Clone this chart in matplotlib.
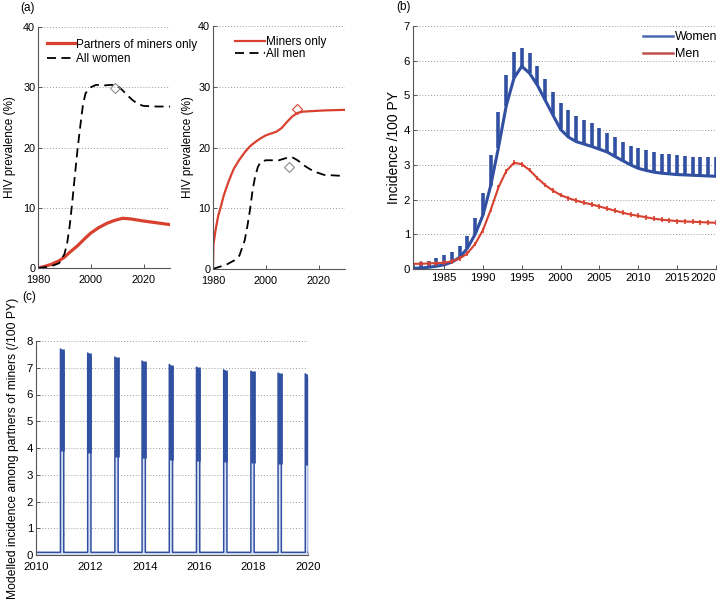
import matplotlib
matplotlib.use("Agg")
import matplotlib.pyplot as plt
import numpy as np

plt.rcParams['font.family'] = ['Liberation Sans', 'DejaVu Sans']

RED = '#d8412f'
BLUE = '#3150a2'
GRAY_D = '#8c8c8c'

# ---------------- Panel (a) left: women ----------------
yrs_aw = [1980, 1982, 1985, 1988, 1990, 1991, 1992, 1993, 1994, 1995, 1996, 1997, 1998, 2000,
          2002, 2005, 2008, 2010, 2012, 2014, 2016, 2018, 2020, 2025, 2030]
all_women = [0.0, 0.1, 0.3, 0.8, 2.3, 4.0, 7.0, 11.0, 15.5, 19.8, 23.5, 27.0, 29.0, 30.0,
             30.4, 30.3, 30.4, 30.3, 29.5, 28.6, 27.8, 27.2, 26.9, 26.8, 26.8]
yrs_ap = [1980, 1982, 1985, 1988, 1990, 1992, 1995, 1998, 2000, 2003, 2006, 2009, 2012,
          2015, 2020, 2025, 2030]
partners = [0.0, 0.2, 0.6, 1.2, 1.8, 2.6, 3.7, 5.0, 5.8, 6.7, 7.4, 7.9, 8.25,
            8.15, 7.8, 7.5, 7.2]
obs_women_x = [2009]
obs_women_y = [29.9]

# ---------------- Panel (a) right: men ----------------
yrs_am = [1980, 1982, 1985, 1988, 1990, 1992, 1993, 1994, 1995, 1996, 1997, 1998, 2000,
          2005, 2008, 2010, 2012, 2015, 2018, 2022, 2030]
all_men = [0.0, 0.3, 0.7, 1.4, 2.2, 4.7, 7.0, 9.7, 13.0, 15.3, 16.8, 17.6, 17.9,
           17.9, 18.3, 18.4, 17.9, 16.9, 16.1, 15.5, 15.3]
yrs_mo = [1980, 1980.15, 1981, 1982, 1983, 1984, 1985, 1986, 1987, 1988, 1990, 1992, 1994,
          1996, 1998, 2000, 2002, 2004, 2006, 2008, 2010, 2012, 2014, 2018, 2022, 2030]
miners = [0.0, 4.0, 6.5, 8.8, 10.3, 12.0, 13.3, 14.5, 15.6, 16.6, 18.0, 19.2, 20.2,
          20.9, 21.5, 22.0, 22.3, 22.6, 23.2, 24.2, 25.1, 25.7, 25.9, 26.0, 26.1, 26.2]
obs_miners_x = [2011.7]
obs_miners_y = [26.4]
obs_men_x = [2008.8]
obs_men_y = [16.8]

# ---------------- Panel (b): incidence ----------------
yrs_b = list(range(1981, 2021))
women_inc = [0.02, 0.03, 0.05, 0.08, 0.12, 0.2, 0.33, 0.6, 1.0, 1.55, 2.4, 3.5, 4.7, 5.5, 5.84,
             5.64, 5.3, 4.87, 4.44, 4.02, 3.8, 3.67, 3.6, 3.53, 3.45, 3.37, 3.24, 3.12, 3.0, 2.9,
             2.84, 2.79, 2.76, 2.74, 2.72, 2.71, 2.7, 2.69, 2.68, 2.67]
women_peak = [0.15, 0.2, 0.24, 0.33, 0.39, 0.5, 0.67, 0.96, 1.47, 2.2, 3.29, 4.53, 5.59, 6.26,
              6.38, 6.23, 5.85, 5.46, 5.11, 4.79, 4.58, 4.41, 4.3, 4.2, 4.07, 3.93, 3.8, 3.67,
              3.53, 3.48, 3.43, 3.38, 3.32, 3.31, 3.27, 3.25, 3.24, 3.22, 3.22, 3.22]
men_inc = [0.15, 0.15, 0.16, 0.17, 0.18, 0.22, 0.3, 0.45, 0.72, 1.12, 1.7, 2.35, 2.82, 3.06,
           3.02, 2.85, 2.62, 2.42, 2.26, 2.13, 2.04, 1.97, 1.91, 1.86, 1.8, 1.74, 1.68, 1.62,
           1.57, 1.53, 1.49, 1.45, 1.42, 1.4, 1.38, 1.37, 1.36, 1.35, 1.34, 1.33]

# ---------------- Panel (c): partners of miners, 2010-2020 ----------------
spike_years = [2010.9, 2011.9, 2012.9, 2013.9, 2014.9, 2015.9, 2016.9, 2017.9, 2018.9, 2019.9]
spike_peak = [7.7, 7.55, 7.4, 7.25, 7.12, 7.02, 6.92, 6.87, 6.8, 6.77]
spike_mid = [3.88, 3.8, 3.68, 3.62, 3.56, 3.5, 3.47, 3.44, 3.4, 3.36]
baseline_c = 0.1
spike_w = 0.12

fig = plt.figure(figsize=(7.28, 6.02), dpi=100)

def style(ax, fs, xpad):
    for s in ['top', 'right']:
        ax.spines[s].set_visible(False)
    for s in ['left', 'bottom']:
        ax.spines[s].set_color('#555555')
        ax.spines[s].set_linewidth(0.8)
    ax.tick_params(direction='in', length=3, width=0.7, color='#555555',
                   labelsize=fs, pad=2)
    ax.tick_params(axis='x', pad=xpad)
    ax.yaxis.grid(True, linestyle=(0, (1, 2)), color='#9a9a9a', linewidth=0.7)
    ax.set_axisbelow(True)

def px(l, t, r, b):
    return [l / 728, 1 - b / 602, (r - l) / 728, (b - t) / 602]

# (a) left
ax1 = fig.add_axes(px(38, 27, 170, 268))
style(ax1, 7.8, 5)
ax1.plot(yrs_ap, partners, color=RED, lw=2.3, label='Partners of miners only')
ax1.plot(yrs_aw, all_women, color='black', lw=1.3, ls=(0, (5, 3)), label='All women')
ax1.plot(obs_women_x, obs_women_y, marker='D', ms=5, mfc='none', mec=GRAY_D, mew=0.8, ls='none')
ax1.set_xlim(1980, 2030)
ax1.set_ylim(0, 40)
ax1.set_xticks([1980, 2000, 2020])
ax1.set_yticks([0, 10, 20, 30, 40])
ax1.set_ylabel('HIV prevalence (%)', fontsize=8.5, labelpad=5)
ax1.legend(loc='upper left', bbox_to_anchor=(0.068, 0.952), frameon=False,
           fontsize=8.5, handlelength=2.4, handletextpad=0.1, borderpad=0,
           borderaxespad=0, labelspacing=0.2)

# (a) right
ax2 = fig.add_axes(px(213, 26, 345, 269))
style(ax2, 7.8, 5)
ax2.plot(yrs_mo, miners, color=RED, lw=1.6, label='Miners only')
ax2.plot(yrs_am, all_men, color='black', lw=1.3, ls=(0, (5, 3)), label='All men')
ax2.plot(obs_miners_x, obs_miners_y, marker='D', ms=5, mfc='none', mec=RED, mew=0.8, ls='none')
ax2.plot(obs_men_x, obs_men_y, marker='D', ms=5, mfc='none', mec=GRAY_D, mew=0.8, ls='none')
ax2.set_xlim(1980, 2030)
ax2.set_ylim(0, 40)
ax2.set_xticks([1980, 2000, 2020])
ax2.set_yticks([0, 10, 20, 30, 40])
ax2.set_ylabel('HIV prevalence (%)', fontsize=8.5, labelpad=3)
ax2.legend(loc='upper left', bbox_to_anchor=(0.167, 0.957), frameon=False,
           fontsize=8.5, handlelength=2.5, handletextpad=0.1, borderpad=0,
           borderaxespad=0, labelspacing=0.0)

# (b)
ax3 = fig.add_axes(px(413, 26, 716, 269))
style(ax3, 8.2, 3)
ax3.vlines(yrs_b, women_inc, women_peak, color=BLUE, lw=2.6)
ax3.plot(yrs_b, women_inc, color=BLUE, lw=2.2, label='Women')
ax3.plot(yrs_b, men_inc, color=RED, lw=1.5, label='Men')
ax3.vlines(yrs_b, np.array(men_inc) - 0.07, np.array(men_inc) + 0.07, color=RED, lw=1.2)
ax3.set_xlim(1981, 2020)
ax3.set_ylim(0, 7)
ax3.set_xticks(list(range(1985, 2021, 5)))
ax3.set_yticks(list(range(0, 8)))
ax3.set_ylabel('Incidence /100 PY', fontsize=10, labelpad=2)
lg3 = ax3.legend(loc='upper left', bbox_to_anchor=(0.756, 0.985), frameon=True,
                 fontsize=9, handlelength=2.4, handletextpad=0.1, borderpad=0.1,
                 borderaxespad=0, labelspacing=0.4, fancybox=False)
lg3.get_frame().set_edgecolor('none')
lg3.get_frame().set_facecolor('white')
lg3.get_frame().set_alpha(1)
for h, c in zip(lg3.get_lines(), ['#4a66b0', '#c0504d']):
    h.set_color(c)
    h.set_linewidth(1.8)
for lab in ax3.get_xticklabels():
    if lab.get_text() == '2020':
        lab.set_horizontalalignment('right')
        lab.set_x(lab.get_position()[0])

# (c)
ax4 = fig.add_axes(px(36, 341, 308, 555))
style(ax4, 8.2, 5)
xc = [2010.0]
yc = [baseline_c]
for t, pk in zip(spike_years, spike_peak):
    xc += [t, t, t + spike_w, t + spike_w]
    yc += [baseline_c, pk, pk * 0.98, baseline_c]
xc.append(2020.0)
yc.append(baseline_c)
ax4.fill_between(xc, 0, yc, color='#d9e2f5', lw=0)
ax4.plot(xc, yc, color=BLUE, lw=1.1)
ax4.vlines(np.array(spike_years) + spike_w / 2, spike_mid, spike_peak, color=BLUE, lw=3.4)
ax4.set_xlim(2010, 2020)
ax4.set_ylim(0, 8)
ax4.set_xticks(list(range(2010, 2021, 2)))
ax4.set_yticks(list(range(0, 9)))
ax4.set_ylabel('Modelled incidence among partners of miners (/100 PY)', fontsize=8.7, labelpad=6)

fig.text(20 / 728, 1 - 8 / 602, '(a)', fontsize=8.5, va='center', ha='left')
fig.text(396 / 728, 1 - 7 / 602, '(b)', fontsize=8.5, va='center', ha='left')
fig.text(22 / 728, 1 - 297 / 602, '(c)', fontsize=8.5, va='center', ha='left')

fig.savefig('out.png', dpi=100)
